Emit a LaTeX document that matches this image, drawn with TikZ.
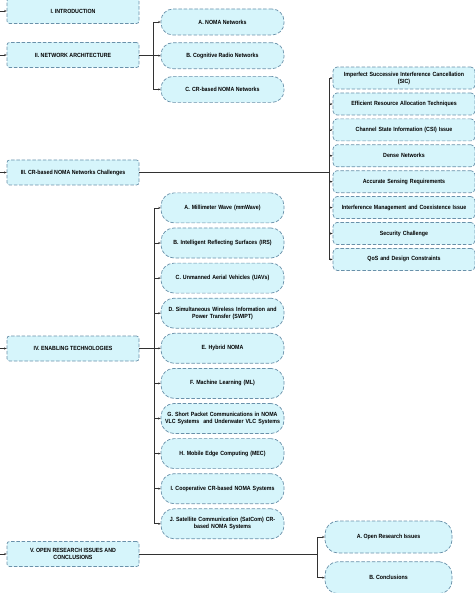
\documentclass[tikz,border=0pt]{standalone}
\usepackage{fontspec}
\setmainfont{Liberation Sans}[FakeStretch=0.88]
\usetikzlibrary{arrows.meta,positioning}
\definecolor{boxfill}{RGB}{214,245,251}
\definecolor{boxline}{RGB}{105,145,170}
\definecolor{wire}{RGB}{50,50,50}
\tikzset{
	box/.style={draw=boxline,fill=boxfill,dash pattern=on 3.5pt off 1.8pt,line width=.7pt,align=center,inner sep=1pt,font=\fontsize{6}{7}\selectfont\bfseries},
	secbox/.style={box,rounded corners=2.5pt,minimum width=132,minimum height=25},
	subbox/.style={box,rounded corners=12pt,minimum width=123,minimum height=26},
	techbox/.style={box,rounded corners=13pt,minimum width=123,minimum height=30,text width=120},
	chalbox/.style={box,rounded corners=4pt,minimum width=142,minimum height=22,text width=140},
	resbox/.style={box,rounded corners=13pt,minimum width=127,minimum height=32},
	tip/.style={draw=wire,line width=.7pt,-{Stealth[length=2.4pt,width=2pt]}}
}
\begin{document}
\begin{tikzpicture}[x=1pt,y=-1pt]
	\useasboundingbox (0,0) rectangle (474,593);
	\coordinate (edge) at (0,0);
	\node[secbox] (intro) at (73,11) {I. INTRODUCTION};
	\node[secbox] (netarch) at (73,55) {II. NETWORK ARCHITECTURE};
	\node[secbox] (challenges) at (73,172.5) {III. CR-based NOMA Networks Challenges};
	\node[secbox] (enabling) at (73,348.5) {IV. ENABLING TECHNOLOGIES};
	\node[secbox] (openres) at (73,554) {V. OPEN RESEARCH ISSUES AND\\CONCLUSIONS};
	\node[subbox] (noma) at (222.5,22) {A. NOMA Networks};
	\node[subbox,below=7pt of noma] (crn) {B. Cognitive Radio Networks};
	\node[subbox,below=7pt of crn] (crnoma) {C. CR-based NOMA Networks};
	\foreach \t [count=\i] in {{Imperfect Successive Interference Cancellation\\(SIC)},
		Efficient Resource Allocation Techniques,
		Channel State Information (CSI) Issue,
		Dense Networks,
		Accurate Sensing Requirements,
		Interference Management and Coexistence Issue,
		Security Challenge,
		QoS and Design Constraints}
		\node[chalbox] (ch\i) at (404,52.2+25.9*\i) {\t};
	\foreach \t [count=\i] in {A. Millimeter Wave (mmWave),
		B. Intelligent Reflecting Surfaces (IRS),
		C. Unmanned Aerial Vehicles (UAVs),
		{D. Simultaneous Wireless Information and\\Power Transfer (SWIPT)},
		E. Hybrid NOMA,
		F. Machine Learning (ML),
		{G. Short Packet Communications in NOMA\\VLC Systems\ \ and Underwater VLC Systems},
		H. Mobile Edge Computing (MEC),
		I. Cooperative CR-based NOMA Systems,
		{J. Satellite Communication (SatCom) CR-\\based NOMA Systems}}
		\node[techbox] (t\i) at (222.5,172.8+35.1*\i) {\t};
	\node[resbox] (o1) at (388.5,537) {A. Open Research Issues};
	\node[resbox,below=8pt of o1] (o2) {B. Conclusions};
	\foreach \s in {intro,netarch,challenges,enabling,openres}
		\draw[tip] (\s.west -| edge) -- (\s.west);
	\foreach \c in {noma,crn,crnoma}
		\draw[tip] (netarch.east) -- ++(14,0) |- (\c.west);
	\foreach \i in {1,...,8}
		\draw[tip] (challenges.east) -- ++(190,0) |- (ch\i.west);
	\foreach \i in {1,...,10}
		\draw[tip] (enabling.east) -- ++(15,0) |- (t\i.west);
	\foreach \i in {1,2}
		\draw[tip] (openres.east) -- ++(178,0) |- (o\i.west);
\end{tikzpicture}
\end{document}
